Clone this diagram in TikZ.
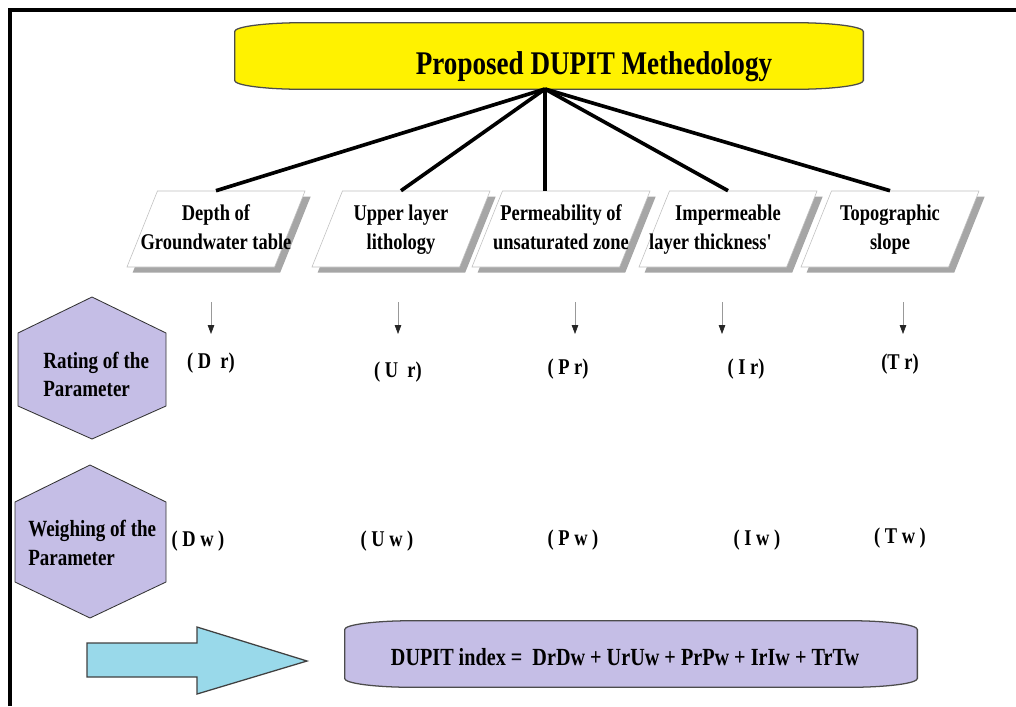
\documentclass[tikz,border=0pt]{standalone}
\usepackage{fontspec}
\setmainfont{Liberation Serif}[FakeStretch=0.82]
\usepackage{tikz}
\usetikzlibrary{positioning, arrows.meta, shapes.geometric, shadows, backgrounds}

\definecolor{titleyellow}{RGB}{255,242,0}
\definecolor{lavender}{RGB}{197,190,230}
\definecolor{skycyan}{RGB}{153,217,234}

% pill outline drawn round a node: node name, fill colour
\newcommand{\pillpath}[2]{%
  \draw[pilledge, fill=#2]
    ([xshift=1.7cm]#1.north west) -- ([xshift=-1.7cm]#1.north east)
    arc[start angle=90, end angle=0, x radius=1.7cm, y radius=0.22cm]
    -- ([yshift=0.22cm]#1.south east)
    arc[start angle=0, end angle=-90, x radius=1.7cm, y radius=0.22cm]
    -- ([xshift=1.7cm]#1.south west)
    arc[start angle=270, end angle=180, x radius=1.7cm, y radius=0.22cm]
    -- ([yshift=-0.22cm]#1.north west)
    arc[start angle=180, end angle=90, x radius=1.7cm, y radius=0.22cm]
    -- cycle;}

% two centred lines that may run past the box edges
\newcommand{\twolines}[1]{\makebox[0pt]{\begin{tabular}{@{}c@{}}#1\end{tabular}}}

\begin{document}
\begin{tikzpicture}[
    x=0.025cm, y=-0.025cm,
    every node/.style={font=\bfseries\fontsize{16}{21}\selectfont},
    pillnode/.style={
        minimum height=1.65cm,
        inner sep=0pt
    },
    pilledge/.style={
        draw=black!70,
        line width=0.9pt
    },
    parabox/.style={
        trapezium,
        trapezium left angle=66,
        trapezium right angle=114,
        trapezium stretches body,
        draw=black!25,
        fill=white,
        minimum width=4.45cm,
        minimum height=1.9cm,
        inner xsep=0pt,
        drop shadow={shadow xshift=4pt, shadow yshift=-4pt, fill=black!35, opacity=1}
    },
    spoke/.style={
        line width=2.6pt
    },
    smallarrow/.style={
        -{Triangle[length=2.2mm, width=1.6mm, black!85]},
        draw=black!40,
        line width=0.5pt
    },
    hexcell/.style={
        draw=black!80,
        line width=0.6pt,
        fill=lavender
    },
    hextext/.style={
        anchor=west,
        align=left,
        inner xsep=0pt,
        font=\bfseries\fontsize{16.5}{20}\selectfont
    },
    bigarrow/.style={
        draw=black!75,
        line width=0.9pt,
        fill=skycyan
    },
    frame/.style={
        line width=3pt
    }
]
\useasboundingbox (0,0) rectangle (1016,706);

% Frame
\draw[frame] (10,706) -- (10,10) -- (1016,10);

% Title
\node[pillnode, minimum width=15.7cm, font=\bfseries\fontsize{23.5}{28}\selectfont] (title) at (549,56)
    {\hspace*{2.25cm}\raisebox{-0.47cm}[0pt][0pt]{Proposed DUPIT Methedology}};
\coordinate (hub) at (545,89);

% Parameters
\node[parabox] (depth) at (216,229) {\twolines{Depth of\\Groundwater table}};
\node[parabox] (upper) at (401,229) {\twolines{Upper layer\\lithology}};
\node[parabox] (perm)  at (561,229) {\twolines{Permeability of\\unsaturated zone}};
\node[parabox] (imper) at (728,229) {\twolines{Impermeable\\\hspace*{-0.85cm}layer thickness\textquotesingle}};
\node[parabox] (topo)  at (890,229) {\twolines{Topographic\\slope}};

% Spokes
\draw[spoke] (hub) -- (depth.north);
\draw[spoke] (hub) -- (upper.north);
\draw[spoke] (hub) -- (hub |- perm.north);
\draw[spoke] (hub) -- (imper.north);
\draw[spoke] (hub) -- (topo.north);

% Ratings
\node (dr) at (211,363) {( D\ \ r)};
\node (ur) at (398,372) {( U\ \ r)};
\node (pr) at (568,369) {( P r)};
\node (ir) at (746,369) {( I r)};
\node (tr) at (900,364) {(T r)};

\foreach \x/\n in {211/dr, 398/ur, 575/pr, 722/ir, 903/tr} {
    \coordinate (\n-top) at (\x,302);
    \coordinate (\n-tip) at (\x,334);
    \draw[smallarrow] (\n-top) -- (\n-tip);
}

% Weights
\node (dw) at (198,541) {( D w )};
\node (uw) at (387,541) {( U w )};
\node (pw) at (573,540) {( P w )};
\node (iw) at (757,540) {( I w )};
\node (tw) at (900,538) {( T w )};

% Hexagons
\draw[hexcell] (92,297) -- (166,333) -- (166,406) -- (92,439) -- (18,406) -- (18,333) -- cycle;
\node[hextext] (rating) at (43,374) {Rating of the\\Parameter};
\draw[hexcell] (90,465) -- (166,502) -- (166,582) -- (90,618) -- (15,582) -- (15,502) -- cycle;
\node[hextext, font=\bfseries\fontsize{16.5}{21}\selectfont] (weighing) at (28,543) {Weighing of the\\Parameter};

% Index
\draw[bigarrow] (87,643) -- (197,643) -- (197,627) -- (307,661) -- (197,694) -- (197,677) -- (87,677) -- cycle;
\node[pillnode, minimum width=14.3cm, font=\bfseries\fontsize{17.5}{21}\selectfont] (index) at (631,654)
    {\hspace*{-0.3cm}\raisebox{-0.28cm}[0pt][0pt]{DUPIT index =\ \ DrDw + UrUw + PrPw + IrIw + TrTw}};

\begin{scope}[on background layer]
    \pillpath{title}{titleyellow}
    \pillpath{index}{lavender}
\end{scope}

\end{tikzpicture}
\end{document}
